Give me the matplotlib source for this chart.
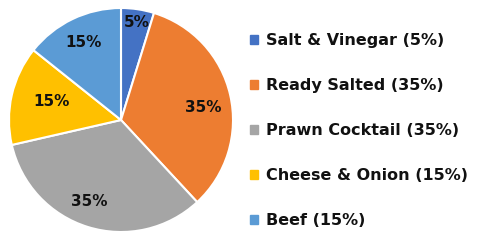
import matplotlib.pyplot as plt
import numpy as np

flavours = ['Salt & Vinegar', 'Ready Salted', 'Prawn Cocktail', 'Cheese & Onion', 'Beef']
shares = [5, 35, 35, 15, 15]
colours = ['#4472C4', '#ED7D31', '#A5A5A5', '#FFC000', '#5B9BD5']
label_dist = [0.88, 0.74, 0.78, 0.64, 0.77]
label_shift = [0, 0, 6, 12, 17]  # degrees, best-fit nudges

plt.rcParams['font.family'] = ['DejaVu Sans']
fig = plt.figure(figsize=(4.83, 2.49), dpi=100)

pax = fig.add_axes([9/483, 1 - 232/249, 224/483, 224/249])
wedges, _ = pax.pie(shares, colors=colours, startangle=90, counterclock=False,
                    wedgeprops=dict(edgecolor='white', linewidth=1.5))
pax.set_xlim(-1.0, 1.0)
pax.set_ylim(-1.0, 1.0)
pax.set_aspect('equal')

start = 90.0
for i, w in enumerate(wedges):
    ang = start - shares[i] * 3.6 / 2 + label_shift[i]
    start -= shares[i] * 3.6
    r = label_dist[i]
    pax.text(r * np.cos(np.radians(ang)), r * np.sin(np.radians(ang)), f'{shares[i]}%',
             ha='center', va='center', fontsize=11, fontweight='bold', color='#111111')

handles = [plt.Rectangle((0, 0), 1, 1, color=c) for c in colours]
labels = [f'{f} ({s}%)' for f, s in zip(flavours, shares)]
leg = fig.legend(handles, labels, loc='upper left', bbox_to_anchor=(236/483, 1 - 19/249),
                 frameon=False, handlelength=0.5, handleheight=0.5, handletextpad=0.45,
                 labelspacing=1.88, prop=dict(size=11.5, weight='bold'))
for t in leg.get_texts():
    t.set_color('#111111')

fig.savefig('out.png', dpi=100)
